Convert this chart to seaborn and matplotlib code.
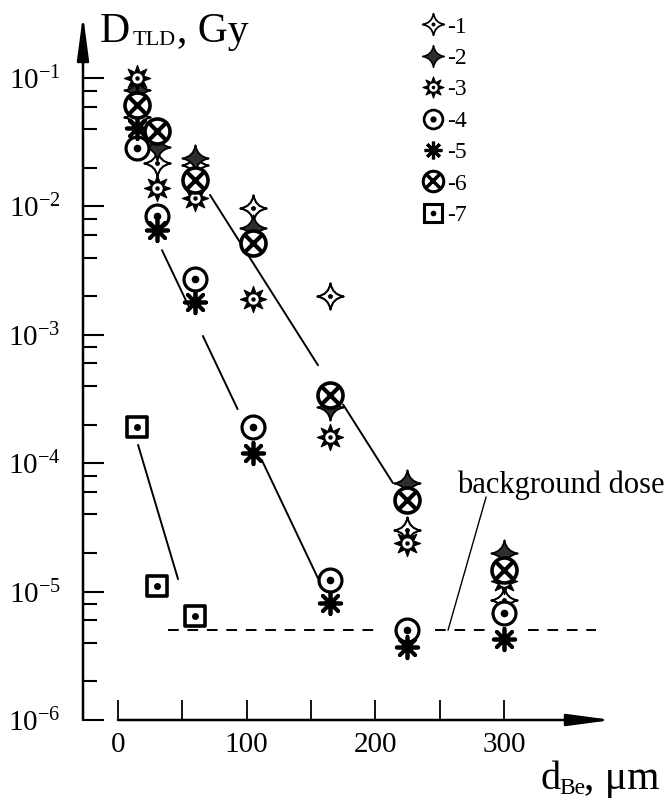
import numpy as np
import matplotlib
matplotlib.use("Agg")
import matplotlib.pyplot as plt
import seaborn as sns
from matplotlib.path import Path
from matplotlib.lines import Line2D
from matplotlib.legend_handler import HandlerTuple
from matplotlib.ticker import FixedLocator, FuncFormatter, NullFormatter

# ── data: Be filter thickness (um) and TLD dose (Gy) ──
d_be = [15, 30, 60, 105, 165, 225, 300]
d_be_7 = [15, 30, 60]

dose_1 = [5.0e-2, 2.2e-2, 2.1e-2, 9.7e-3, 2.0e-3, 3.0e-5, 8.6e-6]
dose_2 = [8.1e-2, 2.9e-2, 2.4e-2, 6.8e-3, 2.75e-4, 7.0e-5, 2.0e-5]
dose_3 = [1.0e-1, 1.39e-2, 1.17e-2, 1.9e-3, 1.6e-4, 2.4e-5, 1.2e-5]
dose_4 = [2.85e-2, 8.4e-3, 2.7e-3, 1.9e-4, 1.23e-5, 5.0e-6, 6.8e-6]
dose_5 = [4.1e-2, 6.5e-3, 1.8e-3, 1.2e-4, 8.2e-6, 3.7e-6, 4.3e-6]
dose_6 = [6.2e-2, 3.9e-2, 1.6e-2, 5.2e-3, 3.4e-4, 5.2e-5, 1.48e-5]
dose_7 = [1.9e-4, 1.1e-5, 6.4e-6]

labels = ["-1", "-2", "-3", "-4", "-5", "-6", "-7"]

# fitted attenuation lines, drawn as pieces (x0, x1), (y0, y1)
fit_upper = [((71.5, 155.5), (1.23e-2, 5.8e-4)),
             ((175.0, 213.8), (2.87e-4, 7.0e-5))]
fit_middle = [((34.2, 55.0), (4.57e-3, 1.67e-3)),
              ((66.0, 93.0), (9.8e-4, 2.64e-4)),
              ((112.0, 155.5), (1.05e-4, 1.27e-5))]
fit_low = [((15.6, 46.7), (1.39e-4, 1.25e-5))]

background = 5e-6
background_pieces = [(39, 200), (246.5, 291), (319, 372)]
leader_x = [256.6, 286.2]
leader_y = [5e-6, 5.46e-5]

# ── markers ──
C3 = Path.CURVE3
star4 = Path([(0, 1), (0.14, 0.14), (1, 0), (0.14, -0.14), (0, -1),
              (-0.14, -0.14), (-1, 0), (-0.14, 0.14), (0, 1), (0, 1)],
             [Path.MOVETO, C3, C3, C3, C3, C3, C3, C3, C3, Path.CLOSEPOLY])

dot = dict(marker="o", ms=5, fc="k", ec="k", lw=0)
styles = [
    [dict(marker=star4, ms=19, fc="white", ec="k", lw=1.5), dict(dot, ms=3.5)],
    [dict(marker=star4, ms=19, fc="#2e2e2e", ec="k", lw=1.3)],
    [dict(marker=(8, 1, 0), ms=19, fc="k", ec="k", lw=0.8),
     dict(marker="o", ms=7.5, fc="white", ec="white", lw=0), dict(dot, ms=3.2)],
    [dict(marker="o", ms=16.5, fc="white", ec="k", lw=2.3), dict(dot, ms=5.5)],
    [dict(marker=(8, 2, 0), ms=15.5, fc="k", ec="k", lw=2.7)],
    [dict(marker="o", ms=18, fc="white", ec="k", lw=2.6),
     dict(marker="x", ms=12.5, fc="k", ec="k", lw=3)],
    [dict(marker="s", ms=15, fc="white", ec="k", lw=2.6), dict(dot, ms=5)],
]

sns.set_style("white")
plt.rcParams["font.family"] = ["Liberation Serif", "DejaVu Serif"]
plt.rcParams["mathtext.fontset"] = "custom"
plt.rcParams["mathtext.rm"] = "Liberation Serif"
for key in ("text.color", "axes.labelcolor", "xtick.color", "ytick.color"):
    plt.rcParams[key] = "black"

W, H = 668, 798
fig = plt.figure(figsize=(W / 100, H / 100), dpi=100)
ax = fig.add_axes([83 / W, 1 - 720 / H, (612 - 83) / W, (720 - 15) / H])
ax.set_yscale("log")
ax.set_xlim(-27.2, 384.1)
ax.set_ylim(1e-6, 0.31)
for sp in ax.spines.values():
    sp.set_visible(False)

# lines
for pieces in (fit_upper, fit_middle, fit_low):
    for xs, ys in pieces:
        sns.lineplot(x=list(xs), y=list(ys), ax=ax, color="k", lw=1.4,
                     estimator=None, sort=False, zorder=2)
for x0, x1 in background_pieces:
    ax.plot([x0, x1], [background, background], color="k", lw=1.4,
            linestyle=(0, (5.5, 4.5)), zorder=2)
ax.plot(leader_x, leader_y, color="k", lw=1.0, zorder=2)
ax.text(264, 5.9e-5, "background dose", fontsize=22, ha="left", va="baseline")

# points
series = [dose_1, dose_2, dose_3, dose_4, dose_5, dose_6, dose_7]
handles = []
for i, (ys, layers) in enumerate(zip(series, styles)):
    xs = d_be if len(ys) == len(d_be) else d_be_7
    parts = []
    for j, st in enumerate(layers):
        sns.scatterplot(x=xs, y=ys, ax=ax, marker=st["marker"], s=st["ms"] ** 2,
                        color=st["ec"], facecolor=st["fc"], edgecolor=st["ec"],
                        linewidth=st["lw"], zorder=4 + i + j * 0.1, legend=False)
        parts.append(Line2D([], [], linestyle="None", marker=st["marker"],
                            markersize=st["ms"] * 0.82, markerfacecolor=st["fc"],
                            markeredgecolor=st["ec"], markeredgewidth=st["lw"] * 0.85))
    handles.append(tuple(parts))

leg = ax.legend(handles, labels, handler_map={tuple: HandlerTuple(ndivide=1, pad=0)},
                loc="upper left", bbox_to_anchor=(421 / W, 1 - 16 / H),
                bbox_transform=fig.transFigure, frameon=False, fontsize=17,
                handlelength=1.0, handletextpad=0.1, labelspacing=0.42,
                borderpad=0, borderaxespad=0, numpoints=1)

# axes with arrows
arrow = dict(arrowstyle="-|>,head_length=2.7,head_width=0.36", color="k",
             lw=1.8, mutation_scale=10, shrinkA=0, shrinkB=0)
ax.annotate("", xy=(0, 1), xytext=(0, 0), xycoords="axes fraction",
            textcoords="axes fraction", arrowprops=arrow)
ax.annotate("", xy=(1, 0), xytext=(0, 0), xycoords="axes fraction",
            textcoords=("data", "axes fraction"), arrowprops=arrow)

# ticks
ax.yaxis.set_major_locator(FixedLocator([10.0 ** k for k in range(-6, 0)]))
ax.yaxis.set_minor_locator(FixedLocator([m * 10.0 ** k for k in range(-6, -1) for m in (2, 4, 6, 8)]))
ax.yaxis.set_major_formatter(FuncFormatter(
    lambda v, p: r"$\mathregular{10^{%d}}$" % int(round(np.log10(v)))))
ax.yaxis.set_minor_formatter(NullFormatter())
ax.set_xticks([0, 50, 100, 150, 200, 250, 300])
ax.set_xticklabels(["0", "", "100", "", "200", "", "300"])
ax.tick_params(axis="y", which="major", direction="in", length=15, width=1.5,
               pad=16, labelsize=21, left=True)
ax.tick_params(axis="y", which="minor", direction="in", length=10, width=1.5, left=True)
ax.tick_params(axis="x", which="major", direction="in", length=14.5, width=1.3,
               pad=9, labelsize=21, bottom=True)
ax.set_xlabel("")
ax.set_ylabel("")

# axis titles
fig.text(100 / W, 1 - 42 / H, "D", fontsize=30, ha="left", va="baseline")
fig.text(133 / W, 1 - 45 / H, "TLD", fontsize=16, ha="left", va="baseline")
fig.text(177 / W, 1 - 42 / H, ", Gy", fontsize=30, ha="left", va="baseline")
fig.text(540 / W, 1 - 789 / H, "d", fontsize=29, ha="left", va="baseline")
fig.text(559 / W, 1 - 794 / H, "Be", fontsize=17, ha="left", va="baseline")
fig.text(584 / W, 1 - 789 / H, ", \u03bcm", fontsize=30, ha="left", va="baseline")

fig.savefig("out.png", dpi=100)
